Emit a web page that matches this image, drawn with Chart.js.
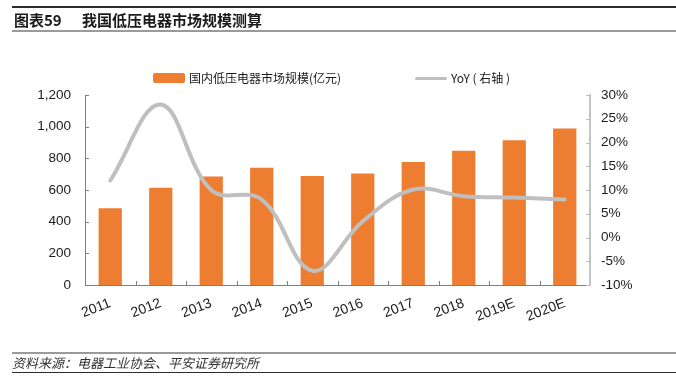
<!DOCTYPE html>
<html>
<head>
<meta charset="utf-8">
<script src="https://cdn.jsdelivr.net/npm/chart.js@4/dist/chart.umd.min.js"></script>
<style>
  html, body { margin: 0; padding: 0; background: #fff; }
  #wrap { position: relative; width: 676px; height: 386px; overflow: hidden; background: #fff; }
  #c { position: absolute; left: 0; top: 0; }
  .rule { position: absolute; left: 12px; right: 0; }
  .t { position: absolute; white-space: nowrap; font-family: "Noto Sans CJK SC", "Liberation Sans", sans-serif; color: #1a1a1a; }
</style>
</head>
<body>
<div id="wrap">
  <canvas id="c" width="676" height="386"></canvas>
  <div class="rule" style="top:6px;height:1.5px;background:#2b2b2b;"></div>
  <div class="t" id="titleA" style="left:14px;top:9px;font-size:15px;line-height:22px;font-weight:bold;">图表59</div>
  <div class="t" id="titleB" style="left:82px;top:9px;font-size:15px;line-height:22px;font-weight:bold;">我国低压电器市场规模测算</div>
  <div class="rule" style="top:30px;height:2px;background:#9a9a9a;"></div>

  <div style="position:absolute;left:153px;top:73px;width:32px;height:10px;background:#ED7D31;border-radius:2px;"></div>
  <div class="t" id="leg1" style="left:189px;top:70px;font-size:12px;line-height:16px;">国内低压电器市场规模(亿元)</div>
  <div style="position:absolute;left:415px;top:76.5px;width:32px;height:3px;background:#BFBFBF;border-radius:2px;"></div>
  <div class="t" id="leg2" style="left:451px;top:70px;font-size:12px;line-height:16px;">YoY ( 右轴 )</div>

  <div class="rule" style="top:352px;height:2px;background:#9a9a9a;"></div>
  <div class="t" id="src" style="left:12px;top:355px;font-size:13px;line-height:16px;font-style:italic;color:#333;">资料来源：电器工业协会、平安证券研究所</div>
  <div class="rule" style="top:371.5px;height:1.5px;background:#2b2b2b;"></div>
</div>
<script>
// ---- data ----
const categories = ['2011', '2012', '2013', '2014', '2015', '2016', '2017', '2018', '2019E', '2020E'];
const marketSize = [485, 615, 685, 740, 688, 705, 777, 848, 915, 988];   // 亿元
const yoyPct = [12, 28, 10, 8, -7, 3.4, 10.1, 8.7, 8.4, 8.0];            // %
const leftTicks = [0, 1200, 200];   // min, max, step
const rightTicks = [-10, 30, 5];    // min, max, step

Chart.defaults.font.family = "'Liberation Sans', Arial, sans-serif";
Chart.defaults.font.size = 13.5;
Chart.defaults.color = '#1a1a1a';

const insideTicks = {
  id: 'insideTicks',
  afterDraw(chart) {
    const ctx = chart.ctx;
    const a = chart.chartArea;
    const x = chart.scales.x, y = chart.scales.y, y1 = chart.scales.y1;
    ctx.save();
    ctx.lineWidth = 1;
    ctx.strokeStyle = '#7f7f7f';
    const half = (x.getPixelForTick(1) - x.getPixelForTick(0)) / 2;
    for (let i = 1; i < categories.length; i++) {
      const px = Math.round(x.getPixelForTick(i) - half) + 0.5;
      ctx.beginPath(); ctx.moveTo(px, a.bottom); ctx.lineTo(px, a.bottom - 4); ctx.stroke();
    }
    y.ticks.forEach(t => {
      const py = Math.round(y.getPixelForValue(t.value)) + 0.5;
      ctx.beginPath(); ctx.moveTo(a.left, py); ctx.lineTo(a.left + 4, py); ctx.stroke();
    });
    ctx.strokeStyle = '#bfbfbf';
    y1.ticks.forEach(t => {
      const py = Math.round(y1.getPixelForValue(t.value)) + 0.5;
      ctx.beginPath(); ctx.moveTo(a.right - 4, py); ctx.lineTo(a.right, py); ctx.stroke();
    });
    ctx.restore();
  }
};

new Chart(document.getElementById('c'), {
  data: {
    labels: categories,
    datasets: [
      {
        type: 'line',
        label: 'YoY ( 右轴 )',
        data: yoyPct,
        yAxisID: 'y1',
        borderColor: '#BFBFBF',
        borderWidth: 4,
        pointRadius: 0,
        tension: 0.38,
        borderCapStyle: 'round',
        order: 0
      },
      {
        type: 'bar',
        label: '国内低压电器市场规模(亿元)',
        data: marketSize,
        yAxisID: 'y',
        backgroundColor: '#ED7D31',
        borderWidth: 0,
        barPercentage: 0.46,
        categoryPercentage: 1.0,
        order: 1
      }
    ]
  },
  options: {
    responsive: false,
    animation: false,
    devicePixelRatio: 1,
    layout: { padding: { top: 95, left: 0, right: 0, bottom: 0 } },
    plugins: { legend: { display: false }, tooltip: { enabled: false } },
    scales: {
      x: {
        grid: { display: false, drawOnChartArea: false, drawTicks: false },
        border: { display: true, color: '#7f7f7f', width: 1 },
        ticks: { autoSkip: false, minRotation: 21, maxRotation: 21, padding: 10, color: '#1a1a1a',
                 font: { size: 14 } },
        afterFit(s) { s.height = 101; }
      },
      y: {
        position: 'left',
        min: leftTicks[0], max: leftTicks[1],
        grid: { display: false, drawOnChartArea: false, drawTicks: false },
        border: { display: true, color: '#7f7f7f', width: 1 },
        ticks: { stepSize: leftTicks[2], padding: 14, color: '#1a1a1a',
                 callback: v => v.toLocaleString('en-US') },
        afterFit(s) { s.width = 85; }
      },
      y1: {
        position: 'right',
        min: rightTicks[0], max: rightTicks[1],
        grid: { display: false, drawOnChartArea: false, drawTicks: false },
        border: { display: true, color: '#c4c4c4', width: 2 },
        ticks: { stepSize: rightTicks[2], padding: 11, color: '#1a1a1a',
                 callback: v => v + '%' },
        afterFit(s) { s.width = 86; }
      }
    }
  },
  plugins: [insideTicks]
});
</script>
</body>
</html>
